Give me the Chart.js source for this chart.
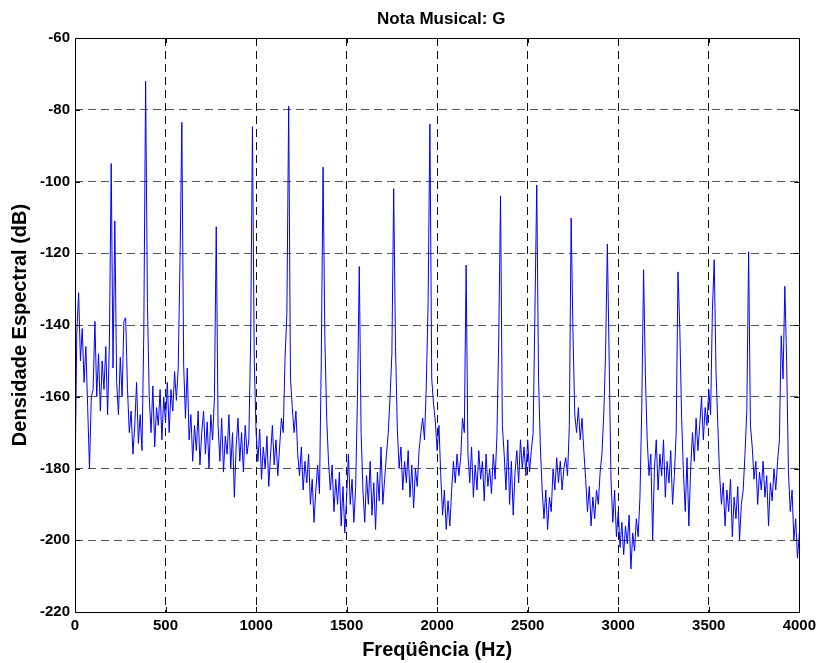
<!DOCTYPE html>
<html>
<head>
<meta charset="utf-8">
<title>Nota Musical: G</title>
<script src="https://cdn.jsdelivr.net/npm/chart.js@4.4.1/dist/chart.umd.min.js"></script>
<style>
  html, body { margin: 0; padding: 0; background: #fff; }
  canvas { display: block; }
</style>
</head>
<body>
<canvas id="psd" width="821" height="663"></canvas>
<script>
// spectrum, one value every 10 Hz, in dB
const freqStepHz = 10;
const db0000to0490 = [
  -185, -142, -131, -150, -141, -156, -146, -163, -180, -160,
  -158, -139, -160, -148, -164, -150, -158, -146, -165, -145,
  -95, -152, -111, -156, -165, -149, -160, -139, -138, -158,
  -170, -164, -176, -168, -156, -173, -165, -175, -142, -72,
  -134, -160, -170, -157, -174, -163, -168, -158, -172, -160
];
const db0500to0990 = [
  -167, -156, -170, -158, -164, -153, -161, -152, -122, -83.5,
  -151, -166, -152, -172, -165, -178, -168, -175, -164, -179,
  -170, -164, -176, -167, -180, -165, -172, -160, -112.6, -168,
  -178, -166, -181, -171, -176, -165, -180, -170, -188, -174,
  -166, -178, -170, -181, -168, -176, -172, -144, -84.7, -150
];
const db1000to1490 = [
  -170, -178, -169, -183, -174, -180, -171, -185, -176, -168,
  -179, -172, -182, -174, -166, -170, -149, -137, -79, -155,
  -163, -170, -164, -176, -182, -174, -186, -178, -184, -176,
  -190, -183, -195, -186, -179, -187, -150, -96, -144, -166,
  -178, -186, -179, -192, -183, -190, -181, -196, -185, -198
];
const db1500to1990 = [
  -188, -176, -190, -183, -195, -185, -160, -123.7, -170, -186,
  -195, -182, -190, -178, -193, -184, -197, -181, -189, -174,
  -190, -183, -176, -170, -160, -148, -102, -146, -169, -180,
  -174, -186, -178, -184, -175, -188, -179, -191, -180, -185,
  -175, -170, -166, -172, -157, -134, -84, -155, -162, -167
];
const db2000to2490 = [
  -175, -168, -182, -193, -186, -197, -189, -196, -186, -178,
  -184, -176, -182, -177, -166, -170, -123.3, -176, -184, -174,
  -188, -179, -186, -175, -183, -178, -189, -176, -185, -180,
  -187, -176, -183, -171, -144, -104, -168, -176, -186, -172,
  -190, -178, -193, -181, -175, -184, -172, -180, -174, -182
];
const db2500to2990 = [
  -172, -181, -175, -170, -136, -101, -155, -174, -186, -194,
  -186, -197, -188, -192, -180, -186, -177, -184, -178, -186,
  -180, -177, -182, -168, -110.2, -142, -165, -170, -163, -172,
  -166, -175, -183, -192, -185, -196, -188, -194, -186, -190,
  -181, -176, -165, -148, -117.4, -150, -183, -195, -186, -199
];
const db3000to3490 = [
  -192, -202, -195, -204, -196, -201, -193, -208, -198, -203,
  -194, -199, -188, -163, -124.6, -154, -172, -182, -176, -200,
  -180, -172, -186, -176, -182, -172, -188, -178, -184, -175,
  -190, -182, -170, -125.2, -141, -166, -181, -192, -177, -196,
  -180, -170, -178, -166, -175, -168, -160, -172, -163, -168
];
const db3500to4000 = [
  -158, -165, -136, -121.8, -153, -168, -182, -190, -184, -196,
  -186, -192, -183, -199, -188, -194, -185, -200, -190, -186,
  -176, -164, -119.6, -168, -174, -183, -178, -190, -181, -186,
  -178, -188, -182, -196, -184, -189, -180, -186, -178, -172,
  -143, -155, -129.2, -150, -181, -192, -186, -200, -194, -205,
  -198
];

const xTickValues = [0, 500, 1000, 1500, 2000, 2500, 3000, 3500, 4000];
const yTickValues = [-220, -200, -180, -160, -140, -120, -100, -80, -60];

const spectrumDb = [].concat(db0000to0490, db0500to0990, db1000to1490, db1500to1990,
  db2000to2490, db2500to2990, db3000to3490, db3500to4000);
const points = spectrumDb.map((v, i) => ({ x: i * freqStepHz, y: v }));

const fontFamily = "'Liberation Sans', Arial, Helvetica, sans-serif";
const titleText = 'Nota Musical: G';

// matlab style box with inward ticks on all four sides, plus the title over the axes
const axesBox = {
  id: 'axesBox',
  afterDraw(chart) {
    const { ctx, chartArea: a, scales } = chart;
    const tick = 5;
    ctx.save();
    ctx.strokeStyle = '#000';
    ctx.lineWidth = 1;
    ctx.beginPath();
    xTickValues.forEach(v => {
      const px = Math.round(scales.x.getPixelForValue(v)) + 0.5;
      ctx.moveTo(px, a.bottom); ctx.lineTo(px, a.bottom - tick);
      ctx.moveTo(px, a.top); ctx.lineTo(px, a.top + tick);
    });
    yTickValues.forEach(v => {
      const py = Math.round(scales.y.getPixelForValue(v)) + 0.5;
      ctx.moveTo(a.left, py); ctx.lineTo(a.left + tick, py);
      ctx.moveTo(a.right, py); ctx.lineTo(a.right - tick, py);
    });
    ctx.stroke();
    ctx.strokeRect(Math.round(a.left) + 0.5, Math.round(a.top) + 0.5,
      Math.round(a.right - a.left), Math.round(a.bottom - a.top));

    ctx.fillStyle = '#000';
    ctx.font = 'bold 17px ' + fontFamily;
    ctx.textAlign = 'center';
    ctx.textBaseline = 'middle';
    ctx.fillText(titleText, (a.left + a.right) / 2 + 4, 19);
    ctx.restore();
  }
};

new Chart(document.getElementById('psd'), {
  type: 'line',
  data: {
    datasets: [{
      data: points,
      borderColor: '#0000ff',
      borderWidth: 1,
      pointRadius: 0,
      tension: 0,
      fill: false
    }]
  },
  options: {
    responsive: false,
    animation: false,
    devicePixelRatio: 1,
    layout: { padding: { left: 0, right: 20, top: 38, bottom: 0 } },
    plugins: {
      legend: { display: false },
      tooltip: { enabled: false },
      title: { display: false }
    },
    scales: {
      x: {
        type: 'linear',
        min: 0,
        max: 4000,
        afterBuildTicks: s => { s.ticks = xTickValues.map(v => ({ value: v })); },
        afterFit: s => { s.height = 51; },
        ticks: {
          color: '#000',
          padding: 5,
          maxRotation: 0,
          callback: v => String(v),
          font: { family: fontFamily, size: 15, weight: 'bold' }
        },
        grid: { color: '#111', lineWidth: 1, drawTicks: false },
        border: { display: false, dash: [8, 5] },
        title: {
          display: true,
          text: 'Freqüência (Hz)',
          color: '#000',
          font: { family: fontFamily, size: 20, weight: 'bold' },
          padding: { top: 0, bottom: 1 }
        }
      },
      y: {
        min: -220,
        max: -60,
        afterBuildTicks: s => { s.ticks = yTickValues.map(v => ({ value: v })); },
        afterFit: s => { s.width = 75; },
        ticks: {
          color: '#000',
          padding: 5,
          callback: v => String(v),
          font: { family: fontFamily, size: 15, weight: 'bold' }
        },
        grid: { color: '#555', lineWidth: 1, drawTicks: false },
        border: { display: false, dash: [8, 5] },
        title: {
          display: true,
          text: 'Densidade Espectral (dB)',
          color: '#000',
          font: { family: fontFamily, size: 20, weight: 'bold' },
          padding: { top: 8, bottom: 0 }
        }
      }
    }
  },
  plugins: [axesBox]
});
</script>
</body>
</html>
